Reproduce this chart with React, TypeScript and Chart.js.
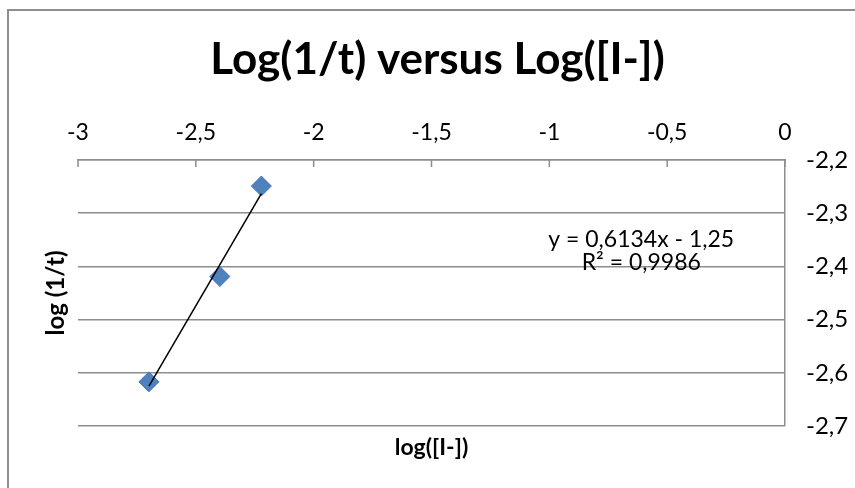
import React, { useEffect, useRef } from 'react';
import { Chart, registerables } from 'chart.js';

Chart.register(...registerables);

const chartTitle = 'Log(1/t) versus Log([I-])';
const xAxisTitle = 'log([I-])';
const yAxisTitle = 'log (1/t)';
const xValues = [-2.699, -2.398, -2.222];
const yValues = [-2.617, -2.419, -2.249];
const xTickLabels = ['-3', '-2,5', '-2', '-1,5', '-1', '-0,5', '0'];
const yTickLabels = ['-2,7', '-2,6', '-2,5', '-2,4', '-2,3', '-2,2'];
const equationLines = ['y = 0,6134x - 1,25', 'R² = 0,9986'];

const FONT = 'Lato';
const GRID = '#8e8e8e';

function fitLine(xs: number[], ys: number[]) {
  const n = xs.length;
  const mx = xs.reduce((a, b) => a + b, 0) / n;
  const my = ys.reduce((a, b) => a + b, 0) / n;
  let sxy = 0;
  let sxx = 0;
  for (let i = 0; i < n; i++) {
    sxy += (xs[i] - mx) * (ys[i] - my);
    sxx += (xs[i] - mx) * (xs[i] - mx);
  }
  const slope = sxy / sxx;
  const intercept = my - slope * mx;
  const x0 = Math.min(...xs);
  const x1 = Math.max(...xs);
  return [
    { x: x0, y: slope * x0 + intercept },
    { x: x1, y: slope * x1 + intercept },
  ];
}

const xTickMarks = {
  id: 'xTickMarks',
  afterDraw(chart: any) {
    const s = chart.scales.x;
    const top = chart.chartArea.top;
    const ctx = chart.ctx;
    ctx.save();
    ctx.strokeStyle = GRID;
    ctx.lineWidth = 1.5;
    ctx.beginPath();
    s.ticks.forEach((t: any) => {
      const px = s.getPixelForValue(t.value);
      ctx.moveTo(px, top);
      ctx.lineTo(px, top + 7);
    });
    ctx.stroke();
    ctx.restore();
  },
};

const equationPlugin = {
  id: 'equation',
  afterDraw(chart: any) {
    const { ctx, scales } = chart;
    const x = scales.x.getPixelForValue(-0.61);
    const y = scales.y.getPixelForValue(-2.35);
    ctx.save();
    ctx.font = `23px ${FONT}`;
    ctx.fillStyle = '#000';
    ctx.textAlign = 'center';
    ctx.textBaseline = 'middle';
    equationLines.forEach((t, i) => ctx.fillText(t, x, y + i * 23));
    ctx.restore();
  },
};

export default function App() {
  const ref = useRef<HTMLCanvasElement>(null);

  useEffect(() => {
    const canvas = ref.current;
    if (!canvas) return;
    const points = xValues.map((x, i) => ({ x, y: yValues[i] }));
    const chart = new Chart(canvas, {
      type: 'scatter',
      data: {
        datasets: [
          {
            label: 'Trend',
            data: fitLine(xValues, yValues),
            showLine: true,
            borderColor: '#000',
            borderWidth: 1.5,
            pointRadius: 0,
            fill: false,
          },
          {
            label: 'log (1/t)',
            data: points,
            pointStyle: 'rectRot',
            pointRadius: 10,
            backgroundColor: '#4F81BD',
            borderColor: '#4677B4',
            borderWidth: 1,
            showLine: false,
          },
        ],
      },
      options: {
        animation: false,
        responsive: false,
        devicePixelRatio: 1,
        layout: { padding: { left: 20, right: 0, top: 0, bottom: 0 } },
        plugins: {
          legend: { display: false },
          tooltip: { enabled: false },
          title: {
            display: true,
            text: chartTitle,
            color: '#000',
            font: { family: FONT, size: 44, weight: 'bold', lineHeight: 1.2 },
            padding: { top: 33, bottom: 0 },
          },
        },
        scales: {
          x: {
            type: 'linear',
            position: 'top',
            min: -3,
            max: 0,
            ticks: {
              stepSize: 0.5,
              padding: 14,
              color: '#000',
              font: { family: FONT, size: 23 },
              callback: (_v: any, i: number) => xTickLabels[i],
            },
            grid: { display: false, drawTicks: false },
            border: { display: true, color: GRID, width: 1.5 },
            afterFit: (s: any) => {
              s.height = 74.2;
            },
          },
          y: {
            type: 'linear',
            position: 'right',
            min: -2.7,
            max: -2.2,
            ticks: {
              stepSize: 0.1,
              padding: 21,
              color: '#000',
              font: { family: FONT, size: 24 },
              callback: (_v: any, i: number) => yTickLabels[i],
            },
            grid: { color: GRID, lineWidth: 1.5, drawTicks: false },
            border: { display: true, color: GRID, width: 1.5 },
            afterFit: (s: any) => {
              s.width = 70;
            },
          },
          y2: {
            type: 'linear',
            position: 'left',
            ticks: { display: false },
            grid: { display: false, drawTicks: false },
            border: { display: false },
            title: {
              display: true,
              text: yAxisTitle,
              color: '#000',
              font: { family: FONT, size: 24, weight: 'bold', lineHeight: 1.2 },
              padding: { top: 22, bottom: 0 },
            },
            afterFit: (s: any) => {
              s.width = 58;
            },
          },
          x2: {
            type: 'linear',
            position: 'bottom',
            ticks: { display: false },
            grid: { display: false, drawTicks: false },
            border: { display: false },
            title: {
              display: true,
              text: xAxisTitle,
              color: '#000',
              font: { family: FONT, size: 23, weight: 'bold', lineHeight: 1.2 },
              padding: { top: 0, bottom: 27 },
            },
            afterFit: (s: any) => {
              s.height = 62;
            },
          },
        },
      } as any,
      plugins: [xTickMarks, equationPlugin],
    });
    return () => chart.destroy();
  }, []);

  return (
    <div
      style={{
        position: 'absolute',
        left: 0,
        top: 0,
        width: 855,
        height: 488,
        overflow: 'hidden',
        background: '#fff',
      }}
    >
      <div
        style={{
          position: 'absolute',
          left: 7,
          top: 9,
          width: 900,
          height: 520,
          border: `2px solid ${GRID}`,
          boxSizing: 'border-box',
        }}
      />
      <canvas
        ref={ref}
        width={855}
        height={488}
        style={{ position: 'absolute', left: 0, top: 0, width: 855, height: 488 }}
      />
    </div>
  );
}
